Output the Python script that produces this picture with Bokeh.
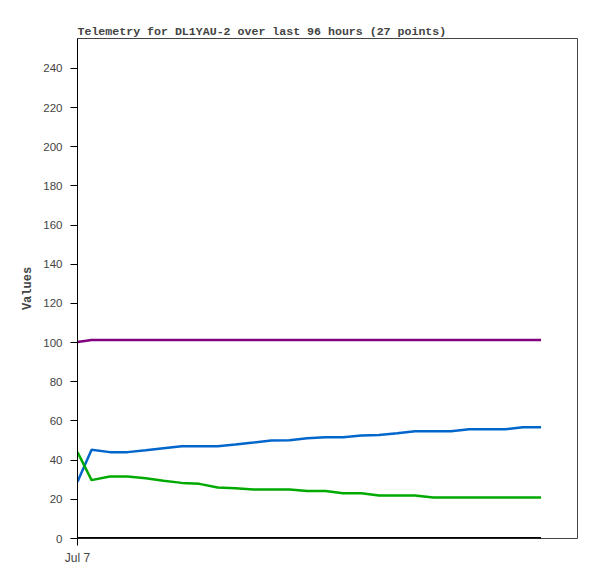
from bokeh.plotting import figure
from bokeh.models import FixedTicker, Range1d
from bokeh.embed import file_html
from bokeh.resources import INLINE

# hours since first point
hours = [0, 2.7, 6.2, 9.6, 13.1, 16.5, 20.0, 23.4, 26.9, 30.3, 33.8, 37.2, 40.7, 44.1,
         47.6, 51.0, 54.5, 57.9, 61.4, 64.8, 68.3, 71.7, 75.2, 78.6, 82.1, 85.5, 89.0]

purple_vals = [100.3] + [101.3] * 26
blue_vals = [29.0, 45.3, 44.1, 44.1, 45.1, 46.1, 47.1, 47.1, 47.1, 48.0, 49.0, 50.0, 50.2, 51.2,
             51.7, 51.7, 52.6, 52.8, 53.8, 54.8, 54.8, 54.8, 55.8, 55.8, 55.8, 56.8, 56.8]
green_vals = [44.1, 29.8, 31.7, 31.7, 30.8, 29.5, 28.4, 27.9, 26.0, 25.7, 25.0, 25.0, 25.0, 24.2,
              24.2, 23.1, 23.1, 22.0, 22.0, 22.0, 20.9, 20.9, 20.9, 20.9, 20.9, 20.9, 20.9]
black_vals = [0] * 27

y_ticks = [0, 20, 40, 60, 80, 100, 120, 140, 160, 180, 200, 220, 240]
x_ticks = [0]
x_tick_labels = {0: "Jul 7"}

p = figure(width=589, height=571, output_backend="svg", toolbar_location=None,
           x_range=Range1d(0, 96), y_range=Range1d(0, 255.3),
           min_border_left=77, min_border_right=12, min_border_top=38, min_border_bottom=33,
           title="Telemetry for DL1YAU-2 over last 96 hours (27 points)")

p.title.text_font = "Liberation Mono"
p.title.text_font_style = "bold"
p.title.text_font_size = "11.6px"
p.title.align = "left"
p.title.standoff = 2
p.title.offset = 0

p.outline_line_color = "#444444"
p.outline_line_width = 1
p.xgrid.grid_line_color = None
p.ygrid.grid_line_color = None
p.background_fill_color = "white"
p.border_fill_color = "white"

p.line(hours, purple_vals, line_color="#800080", line_width=2.5)
p.line(hours, blue_vals, line_color="#0066cc", line_width=2.5)
p.line(hours, green_vals, line_color="#00aa00", line_width=2.5)
p.line(hours, black_vals, line_color="black", line_width=3)

p.yaxis.ticker = FixedTicker(ticks=y_ticks)
p.yaxis.minor_tick_line_color = None
p.yaxis.major_tick_out = 7
p.yaxis.major_tick_in = 0
p.yaxis.axis_line_color = "black"
p.yaxis.major_label_text_font = "Liberation Sans"
p.yaxis.major_label_text_font_size = "11.5px"
p.yaxis.major_label_standoff = 8
p.yaxis.axis_label = "Values"
p.yaxis.axis_label_text_font = "Liberation Mono"
p.yaxis.axis_label_text_font_style = "bold"
p.yaxis.axis_label_text_font_size = "12px"
p.yaxis.axis_label_standoff = 5

p.xaxis.ticker = FixedTicker(ticks=x_ticks)
p.xaxis.major_label_overrides = x_tick_labels
p.xaxis.minor_tick_line_color = None
p.xaxis.major_tick_out = 7
p.xaxis.major_tick_in = 0
p.xaxis.axis_line_color = None
p.xaxis.major_label_text_font = "Liberation Sans"
p.xaxis.major_label_text_font_size = "12px"
p.xaxis.major_label_standoff = 5

open("out.html", "w").write(file_html(p, INLINE))
